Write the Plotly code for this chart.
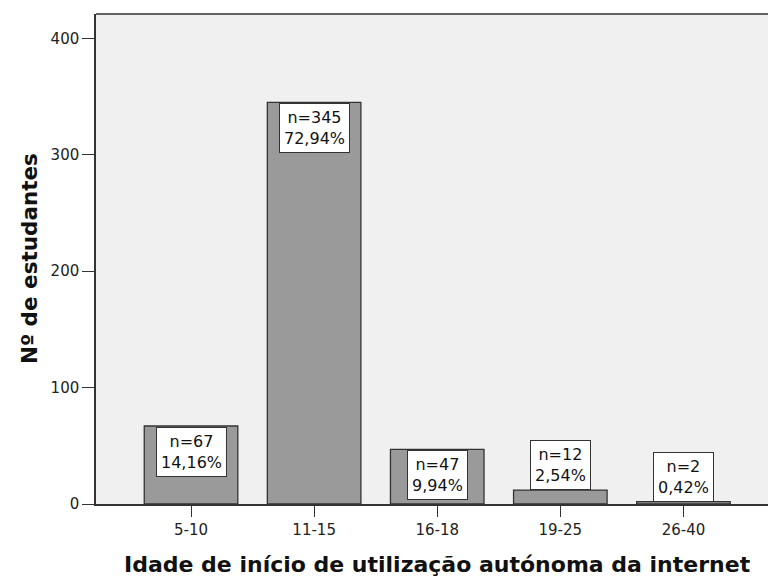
import plotly.graph_objects as go

# ---- data ----
categories = ["5-10", "11-15", "16-18", "19-25", "26-40"]
counts = [67, 345, 47, 12, 2]
percents = ["14,16%", "72,94%", "9,94%", "2,54%", "0,42%"]
y_ticks = [0, 100, 200, 300, 400]
x_title = "Idade de início de utilização autónoma da internet"
y_title = "Nº de estudantes"

# ---- layout constants ----
# The reference's plot area runs past the right edge of the picture, so the
# figure is made a little wider than the window and the overflow is hidden.
W, H = 800, 577
ML, MR, MT, MB = 96, 0, 14, 73
Y_MAX = 421
X_RANGE = [-0.772, 4.947]
PLOT_H = H - MT - MB
PX_PER_UNIT = PLOT_H / Y_MAX
BOX_H = 49
FONT = "DejaVu Sans"
DARK = "#333333"

fig = go.Figure(
    go.Bar(
        x=categories,
        y=counts,
        width=0.76,
        marker=dict(color="#9a9a9a", line=dict(color=DARK, width=1.3)),
        hoverinfo="skip",
    )
)

for c, n, p in zip(categories, counts, percents):
    inside = n * PX_PER_UNIT >= BOX_H
    fig.add_annotation(
        x=c, y=n, xref="x", yref="y",
        text=f"n={n}<br>{p}",
        showarrow=False,
        xanchor="center",
        yanchor="top" if inside else "bottom",
        yshift=-1 if inside else 0,
        bgcolor="white",
        bordercolor=DARK,
        borderwidth=1,
        borderpad=4,
        height=40,
        font=dict(family=FONT, size=16, color="#111111"),
    )

# x-axis title (centred on the middle category, as in the reference)
fig.add_annotation(
    x=categories[len(categories) // 2], y=0, xref="x", yref="paper",
    text=f"<b>{x_title}</b>", showarrow=False,
    xanchor="center", yanchor="top", yshift=-46,
    font=dict(family=FONT, size=22, color="#111111"),
)
# y-axis title
fig.add_annotation(
    x=0, y=0.5, xref="paper", yref="paper",
    text=f"<b>{y_title}</b>", showarrow=False, textangle=-90,
    xanchor="center", yanchor="middle", xshift=-67,
    font=dict(family=FONT, size=21.5, color="#111111"),
)

# top frame line of the plot area
fig.add_shape(
    type="line", xref="paper", yref="paper", x0=0, x1=1, y0=1, y1=1,
    line=dict(color=DARK, width=1.5),
)

fig.update_layout(
    width=W, height=H,
    margin=dict(l=ML, r=MR, t=MT, b=MB, pad=0),
    paper_bgcolor="white",
    plot_bgcolor="#f0f0f0",
    showlegend=False,
    bargap=0.24,
    font=dict(family=FONT, size=15, color="#222222"),
)
fig.update_xaxes(
    type="category",
    range=X_RANGE,
    showgrid=False, zeroline=False,
    showline=True, linecolor=DARK, linewidth=1.5, mirror=False,
    ticks="outside", ticklen=11, tickcolor=DARK, tickwidth=1.3,
    tickfont=dict(family=FONT, size=15, color="#222222"),
)
fig.update_yaxes(
    range=[0, Y_MAX],
    tickvals=y_ticks,
    showgrid=False, zeroline=False,
    showline=True, linecolor=DARK, linewidth=1.5, mirror=False,
    ticks="outside", ticklen=12, tickcolor=DARK, tickwidth=1.3,
    tickfont=dict(family=FONT, size=15, color="#222222"),
)

fig.write_html(
    "out.html",
    config={"displayModeBar": False},
    post_script="document.body.style.margin='0';document.body.style.overflow='hidden';",
)
